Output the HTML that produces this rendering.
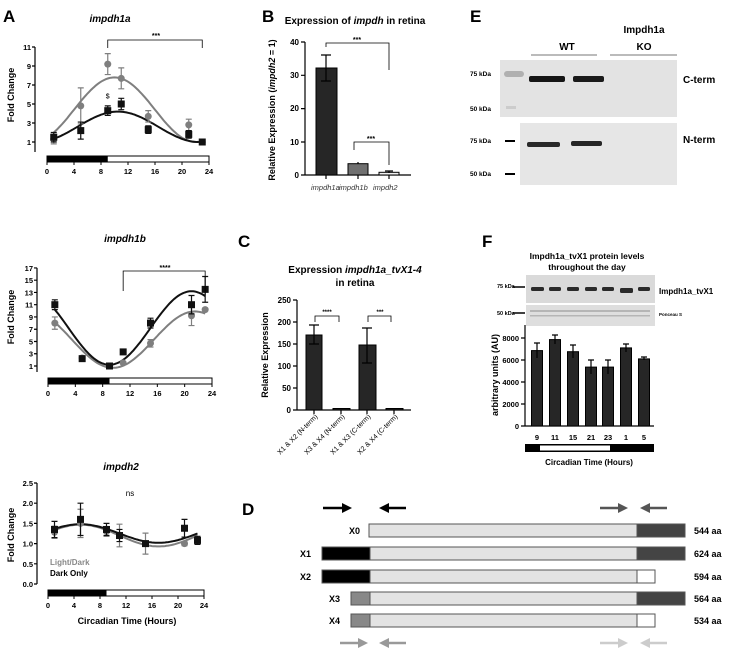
<!DOCTYPE html>
<html><head><meta charset="utf-8"><style>
html,body{margin:0;padding:0;background:#fff}
svg{display:block;font-family:"Liberation Sans",Arial,sans-serif}
.b{font-weight:bold}
</style></head><body>
<svg id="s" width="730" height="650" viewBox="0 0 730 650" xmlns="http://www.w3.org/2000/svg">
<rect width="730" height="650" fill="#fff"/>
<!-- Panel labels -->
<g class="b" font-size="17" fill="#000">
<text x="3" y="22">A</text><text x="262" y="22">B</text><text x="470" y="22">E</text>
<text x="238" y="247">C</text><text x="482" y="247">F</text><text x="242" y="515">D</text>
</g>
<g id="A"></g>

<!-- Panel B -->
<g font-size="8" class="b">
<text x="355" y="24" text-anchor="middle" font-size="10">Expression of <tspan font-style="italic">impdh</tspan> in retina</text>
<text transform="translate(275,110) rotate(-90)" text-anchor="middle" font-size="9">Relative Expression (<tspan font-style="italic">impdh2</tspan> = 1)</text>
<g stroke="#000" stroke-width="1.2" fill="none">
<path d="M305,42 V175 H411 M301,42 H305 M301,75.3 H305 M301,108.6 H305 M301,142 H305 M301,175 H305 M326,175 V179 M358,175 V179 M389,175 V179"/>
</g>
<g text-anchor="end"><text x="299" y="45">40</text><text x="299" y="78">30</text><text x="299" y="111">20</text><text x="299" y="145">10</text><text x="299" y="178">0</text></g>
<rect x="316" y="68" width="21" height="107" fill="#262626" stroke="#000"/>
<rect x="348" y="163.7" width="20" height="11.3" fill="#707070" stroke="#000"/>
<rect x="379" y="172.3" width="20" height="2.7" fill="#f0f0f0" stroke="#000"/>
<path d="M326,55 V81 M321,55 H331 M321,81 H331 M358,162 V164 M389,171 V173 M385,171 H393" stroke="#000" stroke-width="1.2" fill="none"/>
<path d="M326,47 V43 H389 V70 M354,150 V142 H389 V165" stroke="#000" stroke-width="0.8" fill="none"/>
<text x="357" y="42" text-anchor="middle" font-size="7">***</text>
<text x="371" y="141" text-anchor="middle" font-size="7">***</text>
<g font-weight="normal" font-style="italic" font-size="7.5" fill="#333"><text x="311" y="190">impdh1a</text><text x="339" y="190">impdh1b</text><text x="373" y="190">impdh2</text></g>
</g>

<!-- Panel E -->
<g class="b" font-size="10">
<text x="567" y="50" text-anchor="middle">WT</text>
<text x="644" y="33" text-anchor="middle">Impdh1a</text><text x="644" y="50" text-anchor="middle">KO</text>
<path d="M531,55 H597 M610,55 H677" stroke="#777" stroke-width="1"/>
<rect x="500" y="60" width="177" height="57" fill="#e3e3e3"/>
<rect x="520" y="123" width="157" height="62" fill="#e6e6e6"/>
<rect x="504" y="71" width="20" height="6" fill="#b0b0b0" rx="3"/>
<rect x="506" y="106" width="10" height="3" fill="#ccc"/>
<rect x="529" y="76" width="36" height="6" fill="#151515" rx="2"/>
<rect x="573" y="76" width="31" height="6" fill="#1a1a1a" rx="2"/>
<rect x="527" y="142" width="33" height="5" fill="#2a2a2a" rx="2"/>
<rect x="571" y="141" width="31" height="5" fill="#262626" rx="2"/>
<path d="M505,141 H515 M505,174 H515" stroke="#000" stroke-width="2"/>
<g font-size="6.5"><text x="470" y="76">75 kDa</text><text x="470" y="111">50 kDa</text><text x="470" y="143">75 kDa</text><text x="470" y="176">50 kDa</text></g>
<text x="683" y="83">C-term</text><text x="683" y="143">N-term</text>
</g>

<!-- Panel C -->
<g font-size="8" class="b">
<text x="355" y="273" text-anchor="middle" font-size="10">Expression <tspan font-style="italic">impdh1a_tvX1-4</tspan></text>
<text x="355" y="286" text-anchor="middle" font-size="10">in retina</text>
<text transform="translate(268,355) rotate(-90)" text-anchor="middle" font-size="9">Relative  Expression</text>
<path d="M297,300 V410 H411 M293,300 H297 M293,322 H297 M293,344 H297 M293,366 H297 M293,388 H297 M293,410 H297 M314,410 V414 M341,410 V414 M367,410 V414 M394,410 V414" stroke="#000" stroke-width="1.2" fill="none"/>
<g text-anchor="end"><text x="291" y="303">250</text><text x="291" y="325">200</text><text x="291" y="347">150</text><text x="291" y="369">100</text><text x="291" y="391">50</text><text x="291" y="413">0</text></g>
<rect x="306" y="335" width="16" height="75" fill="#262626" stroke="#000"/>
<rect x="333" y="408.5" width="17" height="1.5" fill="#262626" stroke="#000"/>
<rect x="359" y="345" width="17" height="65" fill="#262626" stroke="#000"/>
<rect x="386" y="408.5" width="17" height="1.5" fill="#262626" stroke="#000"/>
<path d="M314,325 V344 M309,325 H319 M309,344 H319 M367,328 V363 M362,328 H372 M362,363 H372" stroke="#000" stroke-width="1.2" fill="none"/>
<path d="M315,322 V316 H339 V322 M368,322 V316 H391 V322" stroke="#000" stroke-width="0.8" fill="none"/>
<text x="327" y="314" text-anchor="middle" font-size="6">****</text><text x="380" y="314" text-anchor="middle" font-size="6">***</text>
<g font-size="7" font-weight="normal" text-anchor="end">
<text transform="translate(318,417) rotate(-45)">X1 &amp; X2 (N-term)</text>
<text transform="translate(345,417) rotate(-45)">X3 &amp; X4 (N-term)</text>
<text transform="translate(371,417) rotate(-45)">X1 &amp; X3 (C-term)</text>
<text transform="translate(398,417) rotate(-45)">X2 &amp; X4 (C-term)</text>
</g>
</g>

<!-- Panel F -->
<g font-size="8" class="b">
<text x="587" y="259" text-anchor="middle" font-size="8.5">Impdh1a_tvX1 protein levels</text>
<text x="587" y="270" text-anchor="middle" font-size="8.5">throughout the day</text>
<rect x="526" y="275" width="129" height="28" fill="#dadada"/>
<rect x="526" y="305" width="129" height="21" fill="#dedede"/>
<g fill="#2a2a2a"><rect x="531" y="287" width="13" height="4" rx="1.5"/><rect x="549" y="287" width="12" height="4" rx="1.5"/><rect x="567" y="287" width="12" height="4" rx="1.5"/><rect x="585" y="287" width="12" height="4" rx="1.5"/><rect x="602" y="287" width="12" height="4" rx="1.5"/><rect x="620" y="288" width="13" height="5" rx="1.5"/><rect x="638" y="287" width="12" height="4" rx="1.5"/></g>
<g fill="#b5b5b5"><rect x="530" y="310" width="120" height="2"/><rect x="530" y="315" width="120" height="1.5"/></g>
<path d="M513,287 H525 M513,313 H525" stroke="#000" stroke-width="1.5"/>
<g font-size="5.5"><text x="497" y="288">75 kDa</text><text x="497" y="315">50 kDa</text><text x="659" y="316" font-size="4.5">Ponceau S</text></g>
<text x="659" y="294" font-size="8">Impdh1a_tvX1</text>
<text transform="translate(498,375) rotate(-90)" text-anchor="middle" font-size="9">arbitrary units (AU)</text>
<path d="M525,325 V426 H654 M521,338 H525 M521,360 H525 M521,382 H525 M521,404 H525 M521,426 H525" stroke="#000" stroke-width="1.2" fill="none"/>
<g text-anchor="end" font-size="7.5"><text x="519" y="341">8000</text><text x="519" y="363">6000</text><text x="519" y="385">4000</text><text x="519" y="407">2000</text><text x="519" y="429">0</text></g>
<g fill="#262626" stroke="#000">
<rect x="531.5" y="350.6" width="11" height="75.4"/><rect x="549.5" y="339.6" width="11" height="86.4"/><rect x="567.5" y="351.7" width="11" height="74.3"/><rect x="585.5" y="367.1" width="11" height="58.9"/><rect x="602.5" y="367.1" width="11" height="58.9"/><rect x="620.5" y="347.9" width="11" height="78.1"/><rect x="638.5" y="358.9" width="11" height="67.1"/>
</g>
<path d="M537,343 V358 M534,343 H540 M555,335 V344 M552,335 H558 M573,345 V358 M570,345 H576 M591,360 V374 M588,360 H594 M608,360 V374 M605,360 H611 M626,344 V352 M623,344 H629 M644,357 V360 M641,357 H647" stroke="#000" stroke-width="1.2"/>
<g text-anchor="middle" font-size="7.5"><text x="537" y="440">9</text><text x="555" y="440">11</text><text x="573" y="440">15</text><text x="591" y="440">21</text><text x="608" y="440">23</text><text x="626" y="440">1</text><text x="644" y="440">5</text></g>
<rect x="525" y="444" width="129" height="8" fill="#000"/><rect x="540" y="445.5" width="70" height="5" fill="#fff"/>
<text x="589" y="465" text-anchor="middle" font-size="8">Circadian Time (Hours)</text>
</g>

<!-- Panel D -->
<g class="b" font-size="9">
<g stroke-width="2.5">
<path d="M323,508 H345" stroke="#000"/><path d="M352,508 L342,503 V513 Z" fill="#000"/>
<path d="M406,508 H385" stroke="#000"/><path d="M379,508 L389,503 V513 Z" fill="#000"/>
<path d="M600,508 H621" stroke="#555"/><path d="M628,508 L618,503 V513 Z" fill="#555"/>
<path d="M667,508 H646" stroke="#555"/><path d="M640,508 L650,503 V513 Z" fill="#555"/>
<path d="M340,643 H361" stroke="#999"/><path d="M368,643 L358,638 V648 Z" fill="#999"/>
<path d="M406,643 H385" stroke="#999"/><path d="M379,643 L389,638 V648 Z" fill="#999"/>
<path d="M600,643 H621" stroke="#ccc"/><path d="M628,643 L618,638 V648 Z" fill="#ccc"/>
<path d="M667,643 H646" stroke="#ccc"/><path d="M640,643 L650,638 V648 Z" fill="#ccc"/>
</g>
<g stroke="#555" stroke-width="1">
<rect x="369" y="524" width="268" height="13" fill="#e3e3e3"/><rect x="637" y="524" width="48" height="13" fill="#444"/>
<rect x="322" y="547" width="48" height="13" fill="#000"/><rect x="370" y="547" width="267" height="13" fill="#e3e3e3"/><rect x="637" y="547" width="48" height="13" fill="#444"/>
<rect x="322" y="570" width="48" height="13" fill="#000"/><rect x="370" y="570" width="267" height="13" fill="#e3e3e3"/><rect x="637" y="570" width="18" height="13" fill="#fff"/>
<rect x="351" y="592" width="19" height="13" fill="#888"/><rect x="370" y="592" width="267" height="13" fill="#e3e3e3"/><rect x="637" y="592" width="48" height="13" fill="#444"/>
<rect x="351" y="614" width="19" height="13" fill="#888"/><rect x="370" y="614" width="267" height="13" fill="#e3e3e3"/><rect x="637" y="614" width="18" height="13" fill="#fff"/>
</g>
<text x="349" y="534">X0</text><text x="300" y="557">X1</text><text x="300" y="580">X2</text><text x="329" y="602">X3</text><text x="329" y="624">X4</text>
<text x="694" y="534">544 aa</text><text x="694" y="557">624 aa</text><text x="694" y="580">594 aa</text><text x="694" y="602">564 aa</text><text x="694" y="624">534 aa</text>
</g>
</svg>
<script>
var NS="http://www.w3.org/2000/svg",G=document.getElementById("A");
function el(t,a,txt){var e=document.createElementNS(NS,t);for(var k in a)e.setAttribute(k,a[k]);if(txt!=null)e.textContent=txt;G.appendChild(e);return e;}
function panel(o){
 var X=function(t){return o.x0+t*(o.x1-o.x0)/24;},Y=function(v){return o.yb-(v-o.vmin)*o.ppu;};
 el("text",{x:o.tx,y:o.ty,"text-anchor":"middle","font-size":10,"font-weight":"bold","font-style":"italic"},o.title);
 el("text",{transform:"translate(14,"+o.ly+") rotate(-90)","text-anchor":"middle","font-size":9,"font-weight":"bold"},"Fold Change");
 var d="M"+o.ax+","+Y(o.vmax)+" V"+o.axEnd;
 o.ticks.forEach(function(v){var y=Y(v);d+=" M"+(o.ax-3)+","+y+" H"+o.ax;
  el("text",{x:o.ax-4,y:y+3,"text-anchor":"end","font-size":7.5,"font-weight":"bold"},o.fmt?v.toFixed(1):v);});
 el("path",{d:d,stroke:"#000","stroke-width":1.2,fill:"none"});
 el("rect",{x:X(0),y:o.by,width:X(24)-X(0),height:6,fill:"#fff",stroke:"#000","stroke-width":1});
 el("rect",{x:X(0),y:o.by,width:X(9)-X(0),height:6,fill:"#000"});
 var td="";[0,4,8,12,16,20,24].forEach(function(t){td+=" M"+X(t)+","+(o.by+6)+" V"+(o.by+9);
  el("text",{x:X(t),y:o.by+18,"text-anchor":"middle","font-size":7.5,"font-weight":"bold"},t);});
 el("path",{d:td,stroke:"#000","stroke-width":1});
 o.series.forEach(function(s){
  var p="";for(var t=1;t<=23.01;t+=0.25){p+=(p?"L":"M")+X(t).toFixed(1)+","+Y(s.f(t)).toFixed(1);}
  el("path",{d:p,stroke:s.c,"stroke-width":2,fill:"none"});
 });
 o.series.forEach(function(s){
  s.pts.forEach(function(q){var x=X(q[0]),y=Y(q[1]);
   if(q[2]){var e=q[2]*o.ppu;el("path",{d:"M"+x+","+(y-e)+" V"+(y+e)+" M"+(x-3)+","+(y-e)+" H"+(x+3)+" M"+(x-3)+","+(y+e)+" H"+(x+3),stroke:s.c,"stroke-width":1.2});}
   if(s.sq)el("rect",{x:x-3.5,y:y-3.5,width:7,height:7,fill:s.c});else el("circle",{cx:x,cy:y,r:3.5,fill:s.c});
  });
 });
 if(o.extra)o.extra(X,Y);
}
var r=Math.PI/180,GR="#7f7f7f",BK="#111";
panel({title:"impdh1a",tx:110,ty:22,ly:95,ax:35,axEnd:152,x0:47,x1:209,yb:142,vmin:1,vmax:11,ppu:9.5,ticks:[1,3,5,7,9,11],by:156,
 series:[{c:GR,f:function(t){return 4.4+3.4*Math.cos((t-10)*15*r);},pts:[[1,1.3,0.5],[5,4.8,1.9],[9,9.2,1.1],[11,7.7,1.1],[15,3.7,0.6],[21,2.8,0.6],[23,1,0.1]]},
        {c:BK,sq:1,f:function(t){return 2.6+1.6*Math.cos((t-10.5)*15*r);},pts:[[1,1.5,0.5],[5,2.2,0.9],[9,4.3,0.5],[11,5.0,0.6],[15,2.3,0.4],[21,1.8,0.4],[23,1.0,0.1]]}],
 extra:function(X,Y){el("path",{d:"M"+X(9)+",48 V40 H"+X(23)+" V48",stroke:"#000","stroke-width":0.8,fill:"none"});
  el("text",{x:156,y:38,"text-anchor":"middle","font-size":7,"font-weight":"bold"},"***");
  el("text",{x:X(9),y:Y(5.6),"text-anchor":"middle","font-size":7,"font-weight":"bold",fill:"#333"},"$");}
});
panel({title:"impdh1b",tx:125,ty:242,ly:317,ax:37,axEnd:372,x0:48,x1:212,yb:366,vmin:1,vmax:17,ppu:6.13,ticks:[1,3,5,7,9,11,13,15,17],by:378,
 series:[{c:GR,f:function(t){return 5.3+4.6*Math.cos((t-21.5)*15*r);},pts:[[1,8.0,1.0],[5,2.3,0.3],[9,1.0,0.2],[11,1.5,0.2],[15,4.7,0.6],[21,9.2,1.6],[23,10.2,0.2]]},
        {c:BK,sq:1,f:function(t){return 7.2+6*Math.cos((t-21)*15*r);},pts:[[1,11,0.8],[5,2.2,0.3],[9,1.0,0.2],[11,3.3,0.2],[15,8.0,0.8],[21,11,1.5],[23,13.5,2.1]]}],
 extra:function(X,Y){el("path",{d:"M"+X(11)+",291 V271 H"+X(23)+" V295",stroke:"#000","stroke-width":0.8,fill:"none"});
  el("text",{x:165,y:270,"text-anchor":"middle","font-size":7,"font-weight":"bold"},"****");}
});
panel({title:"impdh2",tx:121,ty:470,ly:535,ax:37,axEnd:584,x0:48,x1:204,yb:584,vmin:0,vmax:2.5,ppu:40.4,ticks:[0,0.5,1,1.5,2,2.5],fmt:1,by:590,
 series:[{c:GR,f:function(t){return 1.2+0.27*Math.cos((t-5)*15*r);},pts:[[1,1.28,0.15],[5,1.5,0.35],[9,1.3,0.12],[11,1.2,0.28],[15,1.0,0.26],[21,1.0,0.05],[23,1.08,0.08]]},
        {c:BK,sq:1,f:function(t){return 1.25+0.23*Math.cos((t-5)*15*r);},pts:[[1,1.35,0.2],[5,1.6,0.4],[9,1.35,0.15],[11,1.2,0.15],[15,1.0,0.05],[21,1.38,0.22],[23,1.08,0.1]]}],
 extra:function(X,Y){el("text",{x:130,y:496,"text-anchor":"middle","font-size":8},"ns");
  el("text",{x:50,y:565,"font-size":8,"font-weight":"bold",fill:"#888"},"Light/Dark");
  el("text",{x:50,y:576,"font-size":8,"font-weight":"bold",fill:"#000"},"Dark Only");
  el("text",{x:127,y:624,"text-anchor":"middle","font-size":9,"font-weight":"bold"},"Circadian Time (Hours)");}
});
</script>
</body></html>
